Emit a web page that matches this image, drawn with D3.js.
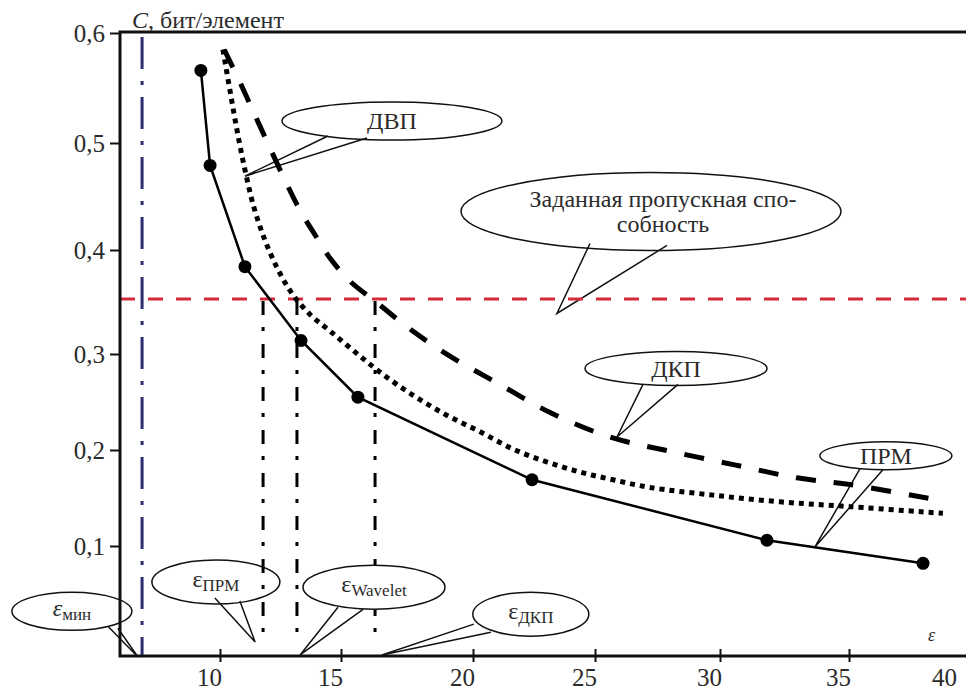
<!DOCTYPE html>
<html><head><meta charset="utf-8">
<script src="https://cdn.jsdelivr.net/npm/d3@7"></script>
<style>body{margin:0;background:#fff} text{font-family:"Liberation Serif","DejaVu Serif",serif}</style>
</head><body>
<svg id="chart" width="966" height="695"></svg>
<script>
// ---------- data ----------
// ПРМ (solid with markers)
const epsPRM = [9.21, 9.59, 11.03, 13.35, 15.64, 22.42, 31.82, 37.87];
const capPRM = [0.566, 0.479, 0.384, 0.313, 0.255, 0.169, 0.106, 0.082];
// ДВП (dotted)
const epsDWT = [10.12, 10.41, 10.70, 11.03, 11.40, 11.86, 12.40, 12.98, 13.72, 14.55, 15.53, 16.48, 17.73, 19.02, 20.29, 21.64, 23.03, 24.39, 25.72, 27.20, 29.72, 32.33, 35.04, 38.64];
const capDWT = [0.585, 0.548, 0.512, 0.475, 0.440, 0.409, 0.381, 0.358, 0.338, 0.322, 0.302, 0.281, 0.257, 0.236, 0.219, 0.201, 0.1875, 0.177, 0.169, 0.161, 0.153, 0.146, 0.141, 0.134];
// ДКП (dashed)
const epsDCT = [10.17, 10.83, 11.45, 12.07, 12.69, 13.31, 13.93, 14.55, 15.34, 16.33, 17.61, 19.17, 20.98, 23.16, 25.60, 28.12, 30.66, 32.98, 35.04, 38.41];
const capDCT = [0.585, 0.555, 0.525, 0.495, 0.465, 0.437, 0.414, 0.392, 0.370, 0.350, 0.324, 0.297, 0.270, 0.239, 0.2135, 0.198, 0.184, 0.171, 0.164, 0.148];
const requiredCapacity = 0.353;              // заданная пропускная способность
const epsThresholds = [11.78, 13.18, 16.29]; // ε ПРМ, ε Wavelet, ε ДКП
const epsMin = 6.78;
const xTicks = [10, 15, 20, 25, 30, 35, 40];
const yTicks = [0.1, 0.2, 0.3, 0.4, 0.5, 0.6];
const yTickLabels = ["0,1", "0,2", "0,3", "0,4", "0,5", "0,6"];

// ---------- layout ----------
const W = 966, H = 695;
const L = 120, T = 32, B = 656, R = 966;
const FONT = '"Liberation Serif","DejaVu Serif",serif';
const TXT = "#2b2b2b";

// scales calibrated to the drawn axis ticks of the original figure
const x = d3.scaleLinear().domain([10, 15, 20, 25, 30, 35]).range([220, 341, 473, 595, 720, 849]);
const y = d3.scaleLinear().domain([0.1, 0.2, 0.3, 0.4, 0.5, 0.6]).range([546, 450, 354, 250, 143, 33]);

const svg = d3.select("#chart");

// callouts (centre & tip in data units, base offsets in px)
const callouts = [
  {lines: ["ДВП"], cx: 16.93, cy: 0.520, rx: 110, ry: 19, tx: 11.03, ty: 0.469, base: [[-64, 15], [-25, 17]], size: 24, layer: "under"},
  {lines: ["Заданная пропускная спо-", "собность"], cx: 27.24, cy: 0.436, rx: 190, ry: 39, tx: 23.44, ty: 0.339, base: [[-61, 32], [16, 34]], size: 24, layer: "under", dx: 12},
  {lines: ["ДКП"], cx: 28.24, cy: 0.285, rx: 91, ry: 17, tx: 25.88, ty: 0.2135, base: [[-33, 16], [2, 16]], size: 24, layer: "under"},
  {lines: ["ПРМ"], cx: 36.43, cy: 0.194, rx: 66, ry: 14, tx: 33.68, ty: 0.099, base: [[-26, 13], [-3, 14]], size: 24, layer: "under"},
  {eps: "ε", sub: "ПРМ", cx: 9.83, cy: 0.0625, rx: 64, ry: 22, tx: 11.45, ty: 0.0, base: [[-1, 16], [24, 19]], size: 24, layer: "under"},
  {eps: "ε", sub: "мин", italic: true, cx: 3.88, cy: 0.032, rx: 60, ry: 19, tx: 6.61, ty: -0.0156, base: [[36, 15], [46, 17]], size: 24, layer: "under"},
  {eps: "ε", sub: "Wavelet", cx: 16.25, cy: 0.057, rx: 71, ry: 22, tx: 13.31, ty: -0.0135, base: [[-36, 20], [-11, 22]], size: 24, layer: "over"},
  {eps: "ε", sub: "ДКП", cx: 22.37, cy: 0.029, rx: 58, ry: 22, tx: 16.55, ty: -0.0135, base: [[-57, 10], [-40, 18]], size: 24, layer: "under"}
];

function drawCallout(g, c) {
  const cx = x(c.cx), cy = y(c.cy), tx = x(c.tx), ty = y(c.ty);
  g.append("ellipse").attr("cx", cx).attr("cy", cy).attr("rx", c.rx).attr("ry", c.ry)
    .attr("fill", "#fff").attr("stroke", "#111").attr("stroke-width", 1.5);
  g.append("path")
    .attr("d", d3.line()([[cx + c.base[0][0], cy + c.base[0][1]], [tx, ty], [cx + c.base[1][0], cy + c.base[1][1]]]))
    .attr("fill", "none").attr("stroke", "#111").attr("stroke-width", 1.5);
  if (c.lines) {
    const n = c.lines.length;
    c.lines.forEach((s, i) => {
      g.append("text").attr("x", cx + (c.dx || 0)).attr("y", cy + (i - (n - 1) / 2) * 25)
        .attr("dy", "0.35em").attr("text-anchor", "middle")
        .style("font-family", FONT).attr("font-size", c.size).attr("fill", TXT).text(s);
    });
  } else {
    const t = g.append("text").attr("x", cx).attr("y", cy).attr("dy", "0.3em").attr("text-anchor", "middle")
      .style("font-family", FONT).attr("fill", TXT);
    t.append("tspan").attr("font-size", c.size).attr("font-style", c.italic ? "italic" : "normal").text(c.eps);
    t.append("tspan").attr("font-size", 17).attr("dy", 4).text(c.sub);
  }
}

const gUnder = svg.append("g");
callouts.filter(c => c.layer === "under").forEach(c => drawCallout(gUnder, c));

// required capacity (red dashed)
svg.append("line").attr("x1", L).attr("x2", R).attr("y1", y(requiredCapacity)).attr("y2", y(requiredCapacity))
  .attr("stroke", "#d42a3c").attr("stroke-width", 3).attr("stroke-dasharray", "15,13");

// vertical dash-dot lines from intersections
svg.selectAll(".thr").data(epsThresholds).enter().append("line")
  .attr("x1", d => x(d)).attr("x2", d => x(d))
  .attr("y1", y(requiredCapacity) + 2).attr("y2", y(0))
  .attr("stroke", "#000").attr("stroke-width", 3).attr("stroke-dasharray", "14,12,4,13");

// ε min (blue dash-dot)
svg.append("line").attr("x1", x(epsMin)).attr("x2", x(epsMin)).attr("y1", T + 5).attr("y2", B)
  .attr("stroke", "#2c2c70").attr("stroke-width", 3).attr("stroke-dasharray", "32,12,4,12");

const line = d3.line().x(d => x(d[0])).y(d => y(d[1]));
const smooth = d3.line().x(d => x(d[0])).y(d => y(d[1])).curve(d3.curveCatmullRom.alpha(0.5));

// ДКП dashed
svg.append("path").attr("d", smooth(d3.zip(epsDCT, capDCT)))
  .attr("fill", "none").attr("stroke", "#000").attr("stroke-width", 5).attr("stroke-dasharray", "20,18");
// ДВП dotted
svg.append("path").attr("d", smooth(d3.zip(epsDWT, capDWT)))
  .attr("fill", "none").attr("stroke", "#000").attr("stroke-width", 5).attr("stroke-dasharray", "5,5");
// ПРМ solid with markers
svg.append("path").attr("d", line(d3.zip(epsPRM, capPRM)))
  .attr("fill", "none").attr("stroke", "#000").attr("stroke-width", 2.5);
svg.selectAll(".pt").data(d3.zip(epsPRM, capPRM)).enter().append("circle")
  .attr("cx", d => x(d[0])).attr("cy", d => y(d[1])).attr("r", 6.5).attr("fill", "#000");

const gOver = svg.append("g");
callouts.filter(c => c.layer === "over").forEach(c => drawCallout(gOver, c));

// frame
svg.append("path").attr("d", `M${R},${T}H${L}V${B}H${R}`).attr("fill", "none")
  .attr("stroke", "#111").attr("stroke-width", 3);

// axes
const gy = svg.append("g").attr("transform", `translate(${L},0)`)
  .call(d3.axisLeft(y).tickValues(yTicks).tickFormat((d, i) => yTickLabels[i]).tickSize(10).tickPadding(5));
gy.select(".domain").remove();
gy.selectAll(".tick line").attr("stroke", "#111").attr("stroke-width", 2);
gy.selectAll(".tick text").style("font-family", FONT).attr("font-size", 25).attr("fill", TXT);

const gx = svg.append("g").attr("transform", `translate(0,${B})`)
  .call(d3.axisBottom(x).tickValues(xTicks).tickFormat(d => d).tickSize(6).tickPadding(6));
gx.select(".domain").remove();
gx.selectAll(".tick line").attr("y1", -7).attr("y2", 6).attr("stroke", "#111").attr("stroke-width", 2);
gx.selectAll(".tick text").style("font-family", FONT).attr("font-size", 25).attr("fill", TXT)
  .attr("x", d => Math.min(x(d) - 11, W - 22) - x(d));

// axis titles
const yt = svg.append("text").attr("x", L + 12).attr("y", 28).style("font-family", FONT).attr("font-size", 24).attr("fill", TXT);
yt.append("tspan").attr("font-style", "italic").text("C");
yt.append("tspan").text(", бит/элемент");
svg.append("text").attr("x", 928).attr("y", 641).style("font-family", FONT).attr("font-size", 18)
  .attr("font-style", "italic").attr("fill", TXT).text("ε");
</script>
</body></html>
